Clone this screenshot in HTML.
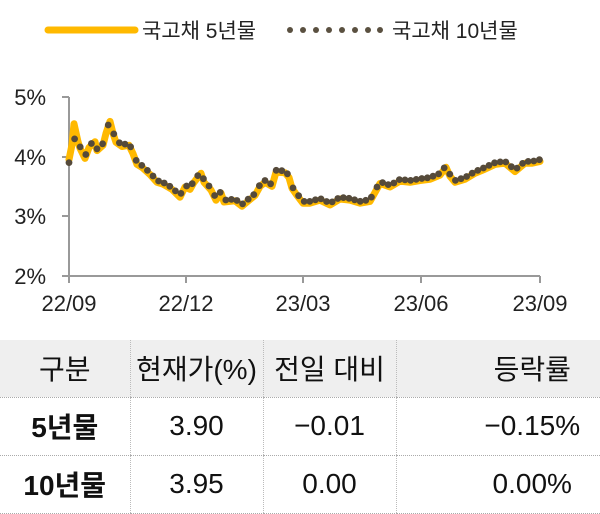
<!DOCTYPE html>
<html><head><meta charset="utf-8"><style>
body{margin:0;width:600px;height:504px;background:#fff;font-family:"Liberation Sans","Noto Sans CJK KR",sans-serif;overflow:hidden;position:relative}
svg{position:absolute;left:0;top:0}
table{position:absolute;left:0;top:340px;width:668px;border-collapse:collapse;font-size:28px;color:#111;table-layout:fixed}
td{height:57px;text-align:center;border-bottom:1px dotted #aaa;border-left:1px dotted #bbb;padding:0;box-sizing:border-box}
td:first-child{border-left:none;font-weight:bold}
tr.h td{background:#efefef;font-weight:normal}
</style></head><body>
<svg width="600" height="340" id="s">
<line x1="48" y1="30" x2="135" y2="30" stroke="#FFB900" stroke-width="7" stroke-linecap="round"/>
<text x="142" y="38" font-size="21" fill="#222">국고채 5년물</text>
<g fill="#5a5040"><circle cx="290" cy="30" r="3"/><circle cx="303" cy="30" r="3"/><circle cx="316" cy="30" r="3"/><circle cx="329" cy="30" r="3"/><circle cx="342" cy="30" r="3"/><circle cx="355" cy="30" r="3"/><circle cx="368" cy="30" r="3"/><circle cx="380" cy="30" r="3"/></g>
<text x="392" y="38" font-size="21" fill="#222">국고채 10년물</text>
<g stroke="#999" stroke-width="2"><line x1="69" y1="97" x2="69" y2="277"/><line x1="69" y1="276" x2="540" y2="276"/>
<line x1="62" y1="97" x2="69" y2="97"/><line x1="62" y1="157" x2="69" y2="157"/><line x1="62" y1="216" x2="69" y2="216"/><line x1="62" y1="276" x2="69" y2="276"/>
<line x1="69" y1="276" x2="69" y2="283"/><line x1="186" y1="276" x2="186" y2="283"/><line x1="303" y1="276" x2="303" y2="283"/><line x1="421" y1="276" x2="421" y2="283"/><line x1="540" y1="276" x2="540" y2="283"/></g>
<g font-size="22" fill="#222" text-anchor="end"><text x="46" y="105">5%</text><text x="46" y="165">4%</text><text x="46" y="224">3%</text><text x="46" y="284">2%</text></g>
<g font-size="22" fill="#222" text-anchor="middle"><text x="69" y="311">22/09</text><text x="186" y="311">22/12</text><text x="303" y="311">23/03</text><text x="421" y="311">23/06</text><text x="540" y="311">23/09</text></g>
<g id="d"></g>
</svg>
<table>
<colgroup><col style="width:130px"><col style="width:133px"><col style="width:133px"><col style="width:272px"></colgroup>
<tr class="h"><td style="height:57px">구분</td><td>현재가(%)</td><td>전일 대비</td><td>등락률</td></tr>
<tr><td style="height:58px">5년물</td><td>3.90</td><td>−0.01</td><td>−0.15%</td></tr>
<tr><td style="height:58px">10년물</td><td>3.95</td><td>0.00</td><td>0.00%</td></tr>
</table>
<script>
var k=[[69,3.9],[72,4.1],[74,4.3],[78,4.28],[80,4.17],[85,4.0],[89,4.18],[95,4.28],[97,4.13],[103,4.22],[106,4.42],[110,4.62],[113,4.42],[116,4.27],[122,4.2],[129,4.22],[133,4.08],[137,3.9],[142,3.85],[150,3.73],[157,3.6],[163,3.57],[172,3.48],[180,3.35],[185,3.52],[190,3.48],[194,3.6],[201,3.75],[204,3.6],[211,3.47],[216,3.3],[221,3.42],[224,3.27],[235,3.29],[242,3.2],[247,3.27],[255,3.38],[260,3.53],[265,3.6],[272,3.53],[276,3.77],[285,3.76],[289,3.68],[292,3.5],[297,3.38],[303,3.25],[310,3.25],[320,3.3],[330,3.22],[340,3.32],[350,3.3],[360,3.25],[370,3.28],[380,3.58],[390,3.52],[400,3.62],[410,3.6],[420,3.63],[430,3.65],[440,3.72],[446,3.85],[450,3.7],[455,3.6],[465,3.65],[475,3.75],[485,3.82],[495,3.9],[505,3.92],[515,3.78],[525,3.92],[532,3.92],[540,3.95]];
function Y(v){return 276-(v-2)*59.7}
function at(x){for(var i=1;i<k.length;i++){if(x<=k[i][0]){var a=k[i-1],b=k[i],t=(x-a[0])/(b[0]-a[0]);return a[1]+t*(b[1]-a[1]);}}return k[k.length-1][1];}
var p="";k.forEach(function(q,i){p+=(i?"L":"M")+q[0]+" "+Y(q[1]-0.03).toFixed(1)});
p=p.replace(/M69 [\d.]+L72 [\d.]+L74 [\d.]+/,"M69 "+Y(3.95)+"L72 "+Y(4.2)+"L74 "+Y(4.55));
var g=document.getElementById("d");
var h='<path d="'+p+'" fill="none" stroke="#FFB900" stroke-width="7" stroke-linejoin="round" stroke-linecap="round"/>';
for(var x=69;x<=540;x+=5.6){h+='<circle cx="'+x.toFixed(1)+'" cy="'+Y(at(x)).toFixed(1)+'" r="3.4" fill="#554a3a"/>';}
g.innerHTML=h;
</script>
</body></html>
